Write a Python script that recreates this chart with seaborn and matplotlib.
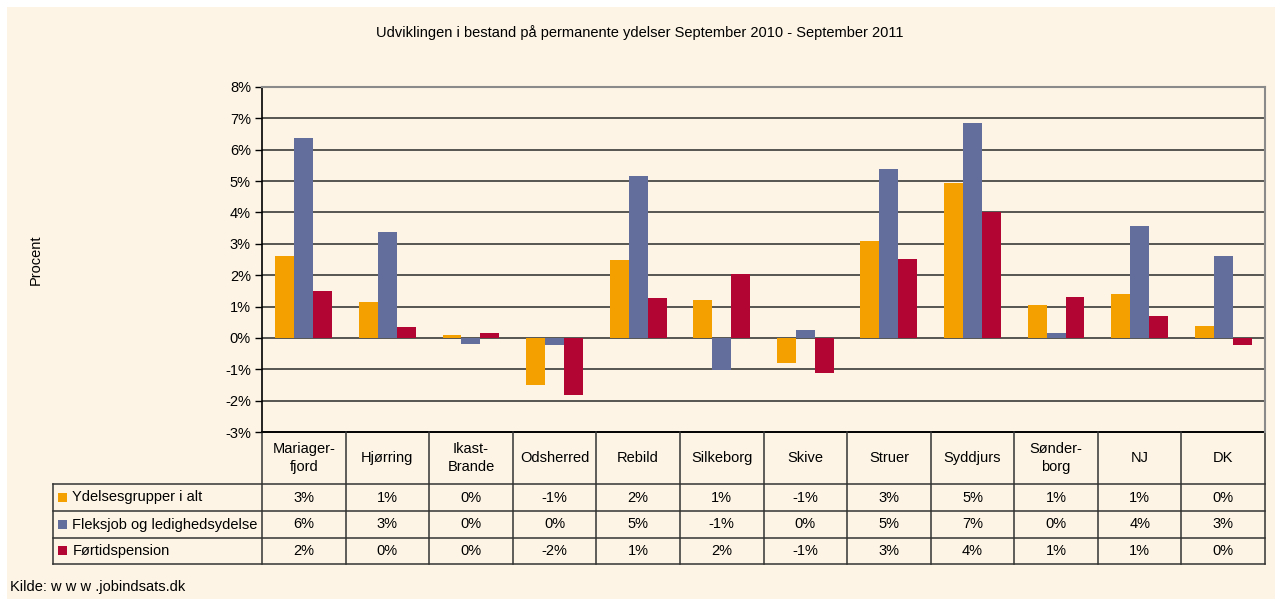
import numpy as np
import pandas as pd
import matplotlib
matplotlib.use("Agg")
import matplotlib.pyplot as plt
import matplotlib.transforms as mtransforms
from matplotlib.patches import Rectangle
import seaborn as sns

# ------------------------------------------------------------------
kommuner = ["Mariager-\nfjord", "Hjørring", "Ikast-\nBrande", "Odsherred", "Rebild",
            "Silkeborg", "Skive", "Struer", "Syddjurs", "Sønder-\nborg", "NJ", "DK"]
serier = ["Ydelsesgrupper i alt", "Fleksjob og ledighedsydelse", "Førtidspension"]

ydelser_i_alt = [2.60, 1.14, 0.10, -1.49, 2.48, 1.21, -0.79, 3.08, 4.95, 1.05, 1.40, 0.38]
fleksjob = [6.38, 3.37, -0.19, -0.22, 5.16, -1.02, 0.25, 5.38, 6.84, 0.16, 3.56, 2.60]
foertid = [1.51, 0.35, 0.16, -1.81, 1.27, 2.03, -1.11, 2.52, 4.00, 1.30, 0.70, -0.22]

farver = ["#F4A000", "#646E9C", "#B20533"]
bg = "#FDF4E5"

titel = "Udviklingen i bestand på permanente ydelser September 2010 - September 2011"
kilde = "Kilde: w w w .jobindsats.dk"

# ------------------------------------------------------------------
df = pd.DataFrame({
    "kommune": kommuner * 3,
    "serie": np.repeat(serier, len(kommuner)),
    "value": ydelser_i_alt + fleksjob + foertid,
})

W, H = 1275, 599
plt.rcParams["font.family"] = ["Liberation Sans", "DejaVu Sans"]
fig = plt.figure(figsize=(W / 100, H / 100), dpi=100, facecolor="white")
fig.patches.append(Rectangle((7 / W, 0), 1 - 7 / W, 1 - 7 / H, transform=fig.transFigure,
                             facecolor=bg, edgecolor="none", zorder=-10))


def px(x0, y0, x1, y1):
    return [x0 / W, 1 - y1 / H, (x1 - x0) / W, (y1 - y0) / H]


ax = fig.add_axes(px(262, 87, 1265, 432))
ax.set_facecolor(bg)
sns.barplot(data=df, x="kommune", y="value", hue="serie", order=kommuner,
            hue_order=serier, palette=farver, width=0.68, gap=0, saturation=1,
            legend=False, ax=ax, zorder=3)
ax.set_xlim(-0.5, len(kommuner) - 0.5)
ax.set_ylim(-3, 8)
ax.set_yticks(range(-3, 9))
ax.set_yticklabels([f"{v}%" for v in range(-3, 9)], fontsize=10.5)
ax.tick_params(axis="y", direction="out", length=5, width=1, color="black", pad=3)
ax.set_xticks([])
ax.set_xlabel("")
ax.set_ylabel("")
for v in range(-2, 8):
    ax.axhline(v, color="#2a2a2a", lw=1.1, zorder=1)
ax.spines["left"].set_color("black")
ax.spines["left"].set_linewidth(1.2)
ax.spines["bottom"].set_visible(False)
for s in ["top", "right"]:
    ax.spines[s].set_color("#8a8a8a")
    ax.spines[s].set_linewidth(1.5)

# ------------------------------------------------------------------
# data table under the chart
tr = mtransforms.blended_transform_factory(ax.transData, ax.transAxes)
ah = 432 - 87
y_rows = [0, -(484 - 432) / ah, -(511 - 432) / ah, -(538 - 432) / ah, -(564 - 432) / ah]
x_left = -3.0
x_edges = [i - 0.5 for i in range(len(kommuner) + 1)]
lc = "#333333"

# horizontal lines
ax.plot([x_edges[0], x_edges[-1]], [0, 0], transform=tr, color="black", lw=1.4, clip_on=False)
for y in y_rows[1:]:
    ax.plot([x_left, x_edges[-1]], [y, y], transform=tr, color=lc, lw=1.1, clip_on=False)
# vertical lines
for x in x_edges:
    ax.plot([x, x], [0, y_rows[-1]], transform=tr, color=lc, lw=1.1, clip_on=False)
ax.plot([x_left, x_left], [y_rows[1], y_rows[-1]], transform=tr, color=lc, lw=1.1, clip_on=False)

for i, navn in enumerate(kommuner):
    ax.text(i, (y_rows[0] + y_rows[1]) / 2, navn, transform=tr, ha="center", va="center",
            fontsize=10.5, linespacing=1.45)

for r, (navn, vals, farve) in enumerate(zip(serier, [ydelser_i_alt, fleksjob, foertid], farver)):
    yc = (y_rows[r + 1] + y_rows[r + 2]) / 2
    for i, v in enumerate(vals):
        ax.text(i, yc, f"{int(np.floor(v + 0.5))}%", transform=tr, ha="center", va="center",
                fontsize=10.5)
    ax.text(x_left + 0.23, yc, navn, transform=tr, ha="left", va="center", fontsize=10.5)
    ax.add_patch(Rectangle((x_left + 0.06, yc - 0.012), 0.11, 0.026, transform=tr,
                           facecolor=farve, edgecolor="none", clip_on=False))

# ------------------------------------------------------------------
fig.text(640 / W, 1 - 33 / H, titel, ha="center", va="center", fontsize=10.5)
fig.text(36 / W, 1 - 260 / H, "Procent", ha="center", va="center", rotation=90, fontsize=10.5)
fig.text(10 / W, 1 - 587 / H, kilde, ha="left", va="center", fontsize=10.5)

fig.savefig("out.png", dpi=100, facecolor=fig.get_facecolor())
plt.close(fig)
